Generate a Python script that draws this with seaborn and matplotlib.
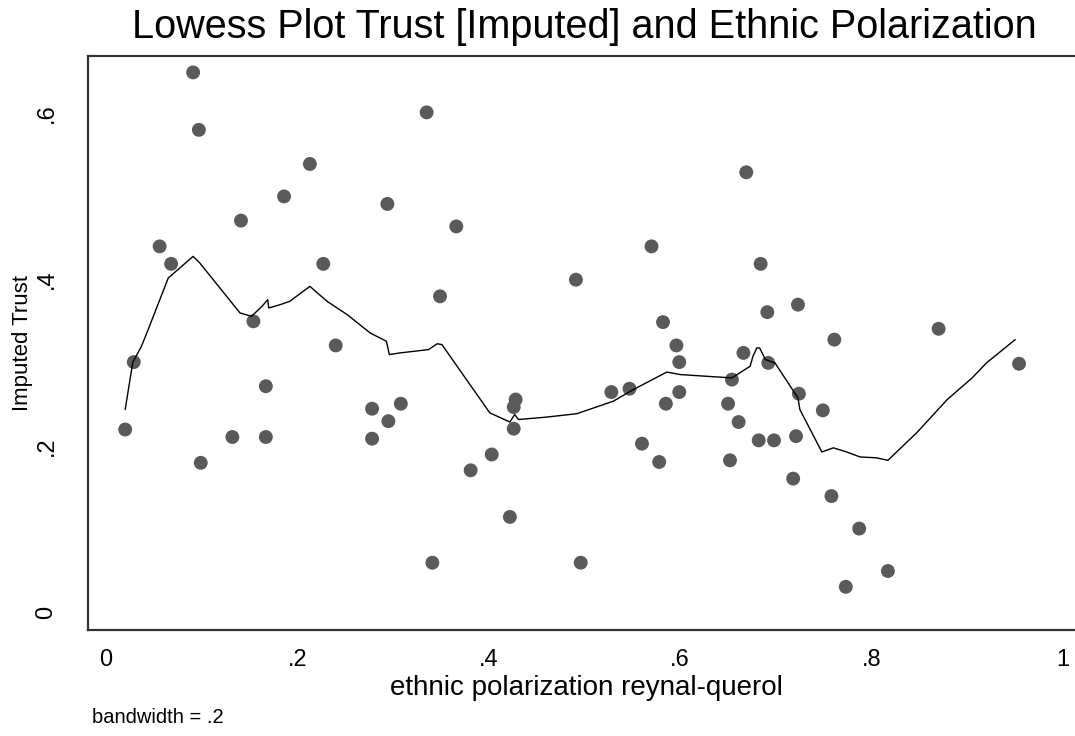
import numpy as np
import pandas as pd
import matplotlib
matplotlib.use('Agg')
import matplotlib.pyplot as plt
import seaborn as sns

# ethnic polarization (x) and imputed trust (y)
polarization = [0.020, 0.029, 0.056, 0.068, 0.091, 0.097, 0.099, 0.132, 0.141, 0.154,
                0.167, 0.167, 0.186, 0.213, 0.227, 0.240, 0.278, 0.278, 0.294, 0.295,
                0.308, 0.335, 0.341, 0.349, 0.366, 0.381, 0.403, 0.422, 0.426, 0.426,
                0.428, 0.491, 0.496, 0.528, 0.547, 0.560, 0.570, 0.578, 0.582, 0.585,
                0.596, 0.599, 0.599, 0.650, 0.652, 0.654, 0.661, 0.666, 0.669, 0.682,
                0.684, 0.691, 0.692, 0.698, 0.721, 0.723, 0.724, 0.718, 0.749, 0.758,
                0.761, 0.773, 0.787, 0.817, 0.870, 0.954]
trust = [0.220, 0.301, 0.440, 0.419, 0.649, 0.580, 0.180, 0.211, 0.471, 0.350,
         0.272, 0.211, 0.500, 0.539, 0.419, 0.321, 0.245, 0.209, 0.491, 0.230,
         0.251, 0.601, 0.060, 0.380, 0.464, 0.171, 0.190, 0.115, 0.221, 0.247,
         0.256, 0.400, 0.060, 0.265, 0.269, 0.203, 0.440, 0.181, 0.349, 0.251,
         0.321, 0.301, 0.265, 0.251, 0.183, 0.280, 0.229, 0.312, 0.529, 0.207,
         0.419, 0.361, 0.300, 0.207, 0.212, 0.370, 0.263, 0.161, 0.243, 0.140,
         0.328, 0.031, 0.101, 0.050, 0.341, 0.299]

# lowess curve (bandwidth .2)
lowess_x = [0.020, 0.028, 0.037, 0.044, 0.065, 0.091, 0.098, 0.140, 0.152, 0.163,
            0.169, 0.170, 0.182, 0.192, 0.213, 0.231, 0.252, 0.276, 0.293, 0.296,
            0.307, 0.337, 0.346, 0.351, 0.401, 0.422, 0.427, 0.431, 0.461, 0.492,
            0.530, 0.551, 0.586, 0.600, 0.654, 0.673, 0.676, 0.680, 0.683, 0.689,
            0.699, 0.723, 0.725, 0.748, 0.760, 0.774, 0.788, 0.805, 0.817, 0.847,
            0.879, 0.905, 0.920, 0.950]
lowess_y = [0.244, 0.301, 0.320, 0.340, 0.402, 0.428, 0.420, 0.360, 0.356, 0.368,
            0.376, 0.366, 0.370, 0.374, 0.392, 0.374, 0.358, 0.336, 0.326, 0.310,
            0.312, 0.316, 0.323, 0.322, 0.240, 0.229, 0.238, 0.232, 0.235, 0.239,
            0.254, 0.268, 0.289, 0.286, 0.282, 0.296, 0.308, 0.318, 0.318, 0.304,
            0.300, 0.258, 0.244, 0.193, 0.198, 0.193, 0.187, 0.186, 0.183, 0.216,
            0.256, 0.282, 0.300, 0.328]

x_ticks = [0, 0.2, 0.4, 0.6, 0.8, 1.0]
x_tick_labels = ['0', '.2', '.4', '.6', '.8', '1']
y_ticks = [0, 0.2, 0.4, 0.6]
y_tick_labels = ['0', '.2', '.4', '.6']

points = pd.DataFrame({'polarization': polarization, 'trust': trust})
curve = pd.DataFrame({'x': lowess_x, 'y': lowess_y})

sns.set_style('white')
plt.rcParams['font.family'] = ['Liberation Sans', 'DejaVu Sans']
plt.rcParams['text.color'] = 'black'
plt.rcParams['axes.labelcolor'] = 'black'
plt.rcParams['xtick.color'] = 'black'
plt.rcParams['ytick.color'] = 'black'

fig = plt.figure(figsize=(10.75, 7.36), dpi=100)
ax = fig.add_axes([0.0819, 0.1434, 0.9181, 0.7805])

sns.scatterplot(data=points, x='polarization', y='trust', s=100,
                color='#5a5a5a', edgecolor='none', ax=ax, zorder=2)
sns.lineplot(data=curve, x='x', y='y', color='black', linewidth=1.0,
             sort=False, estimator=None, ax=ax, zorder=3)

ax.set_xlim(-0.0188, 1.0125)
ax.set_ylim(-0.0214, 0.6687)

ax.set_xticks(x_ticks)
ax.set_xticklabels(x_tick_labels, fontsize=17)
ax.set_yticks(y_ticks)
ax.set_yticklabels(y_tick_labels, fontsize=17, rotation=90, va='center')
ax.tick_params(axis='both', direction='out', length=5, width=1.3, color='#222222')
ax.tick_params(axis='x', pad=8)
ax.tick_params(axis='y', pad=17)

for side in ['left', 'bottom', 'top']:
    ax.spines[side].set_linewidth(1.6)
    ax.spines[side].set_color('#333333')
ax.spines['right'].set_visible(False)

ax.set_xlabel('ethnic polarization reynal-querol', fontsize=20)
ax.xaxis.set_label_coords(0.5046, -0.078)
ax.set_ylabel('Imputed Trust', fontsize=16)
ax.yaxis.set_label_coords(-0.056, 0.5)

fig.text(0.544, 0.963, 'Lowess Plot Trust [Imputed] and Ethnic Polarization',
         fontsize=28.5, ha='center', va='center')
fig.text(0.0856, 0.0245, 'bandwidth = .2', fontsize=14.5, ha='left', va='center')

fig.savefig('out.png', dpi=100)
